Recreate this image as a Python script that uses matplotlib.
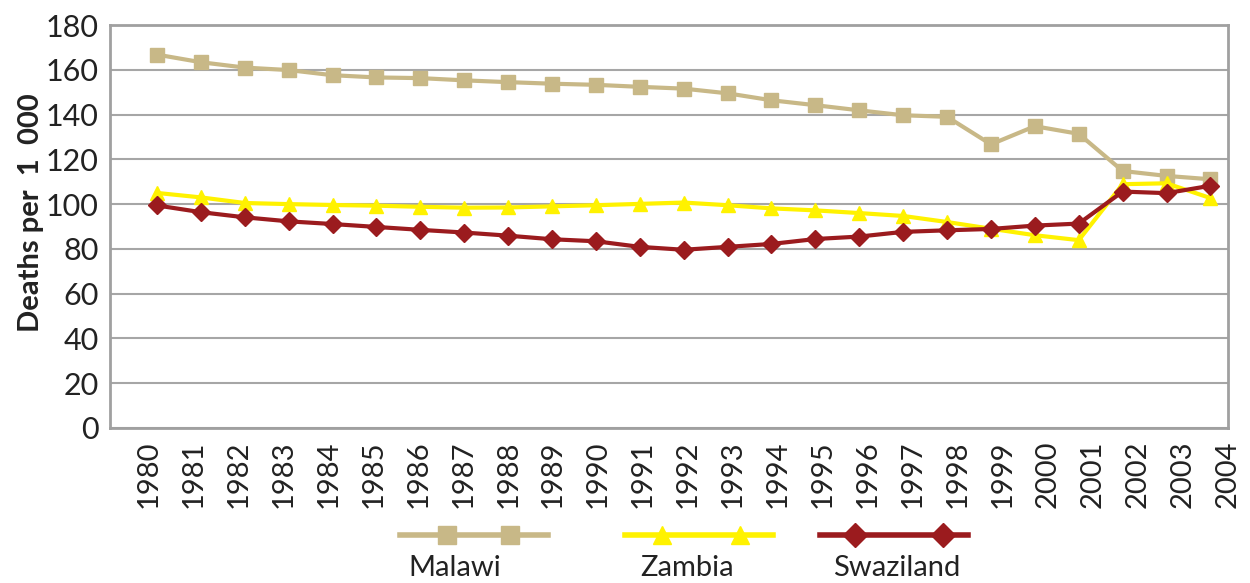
import numpy as np
import matplotlib
matplotlib.use("Agg")
import matplotlib.pyplot as plt
from matplotlib.lines import Line2D

# -------------------------------------
#  Data
# -------------------------------------

years = [str(y) for y in range(1980, 2005)]

malawi = [166.8, 163.4, 161.0, 159.9, 157.6, 156.6, 156.3, 155.3, 154.5, 153.8,
          153.3, 152.4, 151.6, 149.5, 146.4, 144.2, 141.9, 139.7, 139.0, 126.7,
          134.8, 131.4, 114.8, 112.6, 111.1]
zambia = [105.0, 103.0, 100.5, 100.0, 99.6, 99.3, 98.8, 98.4, 98.5, 99.0,
          99.5, 100.1, 100.7, 99.5, 98.1, 97.2, 96.0, 94.7, 92.0, 89.0,
          86.1, 83.9, 108.9, 109.3, 102.7]
swaziland = [99.4, 96.4, 94.1, 92.3, 91.1, 89.8, 88.5, 87.3, 85.9, 84.3,
             83.4, 80.9, 79.6, 80.9, 82.2, 84.4, 85.5, 87.6, 88.3, 88.9,
             90.4, 91.3, 105.6, 104.9, 108.2]

series = [
    ("Malawi", malawi, "#C8B887", "s", 10),
    ("Zambia", zambia, "#FFF200", "^", 10),
    ("Swaziland", swaziland, "#9B1B1E", "D", 9),
]

FONT = ["Lato", "DejaVu Sans"]
plt.rcParams["font.family"] = FONT

# -------------------------------------
#  Plot
# -------------------------------------

fig = plt.figure(figsize=(12.5, 5.83), dpi=100)
ax = fig.add_axes([0.088, 0.266, 0.8944, 0.691])

xpos = np.arange(len(years))
for name, vals, col, mk, ms in series:
    ax.plot(xpos, vals, color=col, lw=3, marker=mk, ms=ms, zorder=3)

# category labels sit slightly off the point positions, as in the source
step = 1.025
ticks = -0.2 + step * np.arange(len(years))
ax.set_xticks(ticks)
ax.set_xticklabels(years, rotation=90, fontsize=21, color="#222222")
ax.set_xlim(-1.07, 24.4)

ax.set_ylim(0, 180)
ax.set_yticks(range(0, 181, 20))
ax.tick_params(axis="y", labelsize=22, colors="#222222", length=0, pad=8)
ax.tick_params(axis="x", length=0, pad=9)
ax.yaxis.grid(True, color="#A6A6A6", lw=1.5)
ax.set_axisbelow(True)
for sp in ax.spines.values():
    sp.set_color("#A0A0A0")
    sp.set_linewidth(2)

fig.text(0.025, 0.635, "Deaths per  1  000", rotation=90, fontsize=21,
         fontweight="bold", ha="center", va="center", color="#222222")

# -------------------------------------
#  Legend, drawn by hand (labels below the keys)
# -------------------------------------

W, H = 1250.0, 583.0
keys = [(400, 548, 447, 510, 455), (625, 773, 662, 740, 687), (820, 968, 855, 943, 897)]
for (name, vals, col, mk, ms), (x0, x1, m0, m1, tx) in zip(series, keys):
    yk = 1 - 535 / H
    fig.add_artist(Line2D([x0 / W, x1 / W], [yk, yk], color=col, lw=4,
                          transform=fig.transFigure))
    fig.add_artist(Line2D([m0 / W, m1 / W], [yk, yk], color=col, lw=0,
                          marker=mk, ms=ms + 3, transform=fig.transFigure))
    fig.text(tx / W, 1 - 568 / H, name, fontsize=21, ha="center", va="center",
             color="#222222")

fig.savefig("out.png", dpi=100)
